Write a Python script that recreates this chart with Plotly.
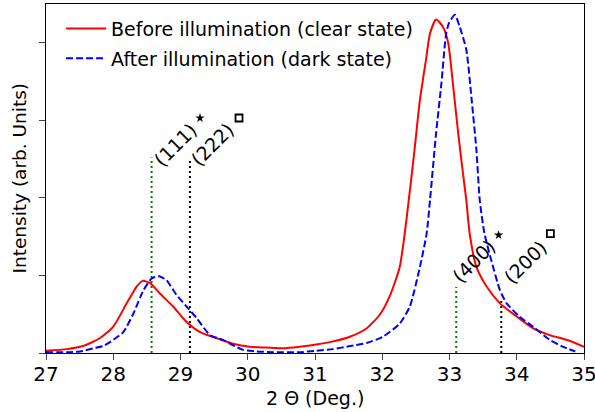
import plotly.graph_objects as go

# Before illumination (clear state)
before_x = [27.00, 27.31, 27.55, 27.80, 28.00, 28.20, 28.35, 28.44, 28.55, 28.69, 28.89, 29.09,
            29.29, 29.54, 29.78, 30.03, 30.28, 30.53, 30.77, 31.02, 31.27, 31.52, 31.77, 31.96,
            32.11, 32.26, 32.36, 32.48, 32.56, 32.65, 32.71, 32.80, 32.90, 32.98, 33.05, 33.13,
            33.20, 33.25, 33.30, 33.40, 33.55, 33.75, 34.00, 34.24, 34.49, 34.74, 35.00]
before_y = [0.03, 0.05, 0.09, 0.19, 0.34, 0.64, 0.86, 0.93, 0.90, 0.77, 0.60, 0.40,
            0.27, 0.19, 0.12, 0.08, 0.07, 0.06, 0.08, 0.11, 0.15, 0.21, 0.32, 0.49,
            0.73, 1.11, 1.72, 2.62, 3.26, 3.78, 4.12, 4.30, 4.21, 4.00, 3.48, 2.83,
            2.32, 1.97, 1.54, 1.11, 0.86, 0.64, 0.47, 0.32, 0.23, 0.17, 0.08]

# After illumination (dark state)
after_x = [27.00, 27.31, 27.51, 27.70, 27.85, 28.00, 28.15, 28.30, 28.45, 28.57, 28.68, 28.79,
           28.94, 29.09, 29.24, 29.44, 29.63, 29.78, 29.93, 30.13, 30.38, 30.77, 31.02, 31.27,
           31.52, 31.77, 32.01, 32.26, 32.41, 32.56, 32.66, 32.71, 32.80, 32.88, 32.95, 32.99,
           33.08, 33.15, 33.25, 33.33, 33.40, 33.45, 33.52, 33.62, 33.75, 33.85, 34.04, 34.24,
           34.49, 34.69, 34.87]
after_y = [0.01, 0.01, 0.02, 0.06, 0.09, 0.17, 0.27, 0.51, 0.81, 0.96, 0.99, 0.94,
           0.75, 0.60, 0.45, 0.23, 0.17, 0.10, 0.04, 0.02, 0.01, 0.01, 0.03, 0.05,
           0.09, 0.13, 0.21, 0.38, 0.60, 1.11, 1.54, 1.97, 2.83, 3.48, 4.12, 4.25,
           4.36, 4.21, 3.91, 3.26, 2.62, 1.97, 1.54, 1.20, 0.81, 0.64, 0.47, 0.34,
           0.17, 0.08, 0.02]

# Reference reflections
ref_x = [28.57, 29.14, 33.10, 33.77]
ref_h = [2.52, 2.50, 0.85, 0.68]
ref_colors = ["green", "black", "green", "black"]
ref_labels = ["(111)", "(222)", "(400)", "(200)"]
label_x = [28.92, 29.48, 33.36, 34.13]
label_y = [2.68, 2.69, 1.19, 1.17]
# phase markers (star / square) next to labels
star_x = [29.29, 33.73]
star_y = [3.03, 1.52]
square_x = [29.87, 34.50]
square_y = [3.03, 1.54]

x_ticks = [27, 28, 29, 30, 31, 32, 33, 34, 35]
y_ticks = [0, 1, 2, 3, 4]

font = "DejaVu Sans"
fig = go.Figure()

for xv, hv, c in zip(ref_x, ref_h, ref_colors):
    fig.add_trace(go.Scatter(x=[xv, xv], y=[0, hv], mode="lines", showlegend=False,
                             line=dict(color=c, width=2, dash="2px,3px"), hoverinfo="skip"))

fig.add_trace(go.Scatter(x=before_x, y=before_y, mode="lines", legendgroup="a",
                         name="Before illumination (clear state)",
                         line=dict(color="red", width=2, shape="spline", smoothing=0.6)))
fig.add_trace(go.Scatter(x=after_x, y=after_y, mode="lines", legendgroup="b",
                         name="After illumination (dark state)",
                         line=dict(color="blue", width=2, dash="7px,3px", shape="spline", smoothing=0.6)))

fig.add_trace(go.Scatter(x=star_x, y=star_y, mode="markers", showlegend=False, hoverinfo="skip",
                         marker=dict(symbol="star", size=7, color="black", line=dict(width=0))))
fig.add_trace(go.Scatter(x=square_x, y=square_y, mode="markers", showlegend=False, hoverinfo="skip",
                         marker=dict(symbol="square-open", size=7, color="black",
                                     line=dict(width=1.8, color="black"))))

for lx, ly, t in zip(label_x, label_y, ref_labels):
    fig.add_annotation(x=lx, y=ly, text=t, showarrow=False, textangle=-45,
                       font=dict(family=font, size=19, color="black"),
                       xanchor="center", yanchor="middle")

# axis titles as annotations for exact placement
fig.add_annotation(x=0.5, y=0, xref="paper", yref="paper", yshift=-45,
                   text="2 Θ (Deg.)", showarrow=False, xanchor="center", yanchor="middle",
                   font=dict(family=font, size=19, color="black"))
fig.add_annotation(x=0, y=0.5, xref="paper", yref="paper", xshift=-27,
                   text="Intensity (arb. Units)", showarrow=False, textangle=-90,
                   xanchor="center", yanchor="middle",
                   font=dict(family=font, size=18.5, color="black"))

fig.update_layout(
    width=595, height=412,
    margin=dict(l=46, r=11, t=4, b=59, autoexpand=False),
    plot_bgcolor="white", paper_bgcolor="white",
    font=dict(family=font, size=16, color="black"),
    legend=dict(x=0.028, y=0.984, xanchor="left", yanchor="top",
                bgcolor="rgba(0,0,0,0)", font=dict(size=19), tracegroupgap=2,
                itemwidth=40),
)
fig.update_xaxes(range=[27, 35], tickvals=x_ticks, ticks="outside", ticklen=6, tickwidth=1,
                 showline=True, linecolor="black", linewidth=1, mirror=True, showgrid=False,
                 zeroline=False, automargin=False, tickfont=dict(size=20),
                 ticklabeloverflow="allow", ticklabelstandoff=-3)
fig.update_yaxes(range=[0, 4.5], tickvals=y_ticks, showticklabels=False, ticks="outside",
                 ticklen=6, tickwidth=1, showline=True, linecolor="black", linewidth=1,
                 mirror=True, showgrid=False, zeroline=False, automargin=False)

fig.write_html("out.html", config={"displayModeBar": False},
               post_script="document.body.style.margin='0';document.body.style.overflow='hidden';")
